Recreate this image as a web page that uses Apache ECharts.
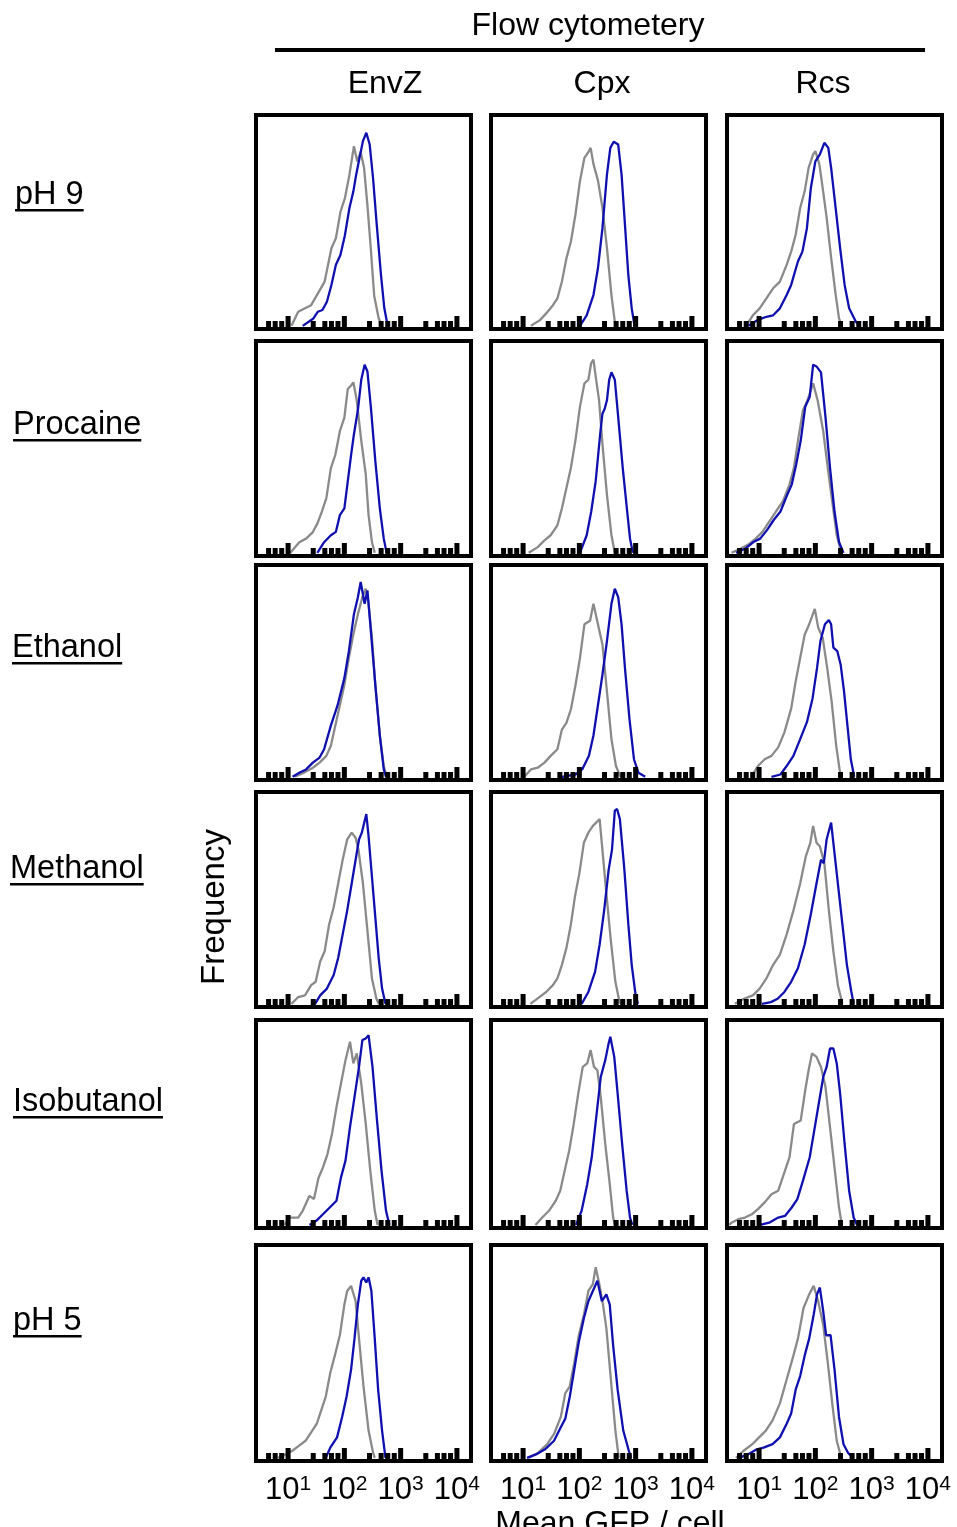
<!DOCTYPE html>
<html>
<head>
<meta charset="utf-8">
<script src="https://cdn.jsdelivr.net/npm/echarts@6/dist/echarts.min.js"></script>
<style>
html,body{margin:0;padding:0;background:#fff}
#main{width:957px;height:1527px}
</style>
</head>
<body>
<div id="main"></div>
<script>
// labels
var title = 'Flow cytometery';
var colNames = ['EnvZ', 'Cpx', 'Rcs'];
var rowNames = ['pH 9', 'Procaine', 'Ethanol', 'Methanol', 'Isobutanol', 'pH 5'];
var yTitle = 'Frequency';
var xTitle = 'Mean GFP / cell';

// x values are log10(fluorescence), y is % of panel height
var ph9EnvzGray = [[1.06,0],[1.18,6.7],[1.3,8.3],[1.41,9.8],[1.53,15.4],[1.65,21],[1.77,36.8],[1.85,41.6],[1.93,54],[2.01,60.6],[2.09,71.7],[2.17,85.2],[2.23,78],[2.29,82.5],[2.35,75],[2.41,57],[2.47,36.5],[2.53,14.3],[2.61,3.5],[2.67,0]];
var ph9EnvzBlue = [[1.26,0],[1.45,3.5],[1.53,6.7],[1.61,7.5],[1.69,11.4],[1.77,19.4],[1.85,29],[1.93,33.6],[2.01,43],[2.09,55.9],[2.16,63.8],[2.21,71.7],[2.27,79.7],[2.33,87.6],[2.39,91.6],[2.45,86],[2.51,70],[2.57,49.7],[2.65,24.3],[2.71,8.3],[2.77,0]];
var ph9CpxGray = [[1.14,0],[1.3,2.7],[1.41,5.9],[1.53,9.8],[1.61,13],[1.69,21],[1.77,32],[1.85,40],[1.93,52.7],[2.01,68.6],[2.09,79.7],[2.15,82],[2.2,84.4],[2.25,76.8],[2.33,69],[2.41,56],[2.49,37],[2.57,14.6],[2.63,1.9],[2.67,0]];
var ph9CpxBlue = [[2.01,0],[2.13,5],[2.25,14.6],[2.33,27.3],[2.41,46.3],[2.49,71.7],[2.55,84.4],[2.61,87.3],[2.69,86],[2.75,71.7],[2.81,48],[2.87,24],[2.93,8.3],[2.98,0]];
var ph9RcsGray = [[0.77,0],[0.89,5],[1.01,8.3],[1.13,13],[1.25,17.8],[1.37,21],[1.49,28.9],[1.57,35.2],[1.65,43.2],[1.73,55.9],[1.81,63.8],[1.88,74.9],[1.96,81.3],[2,82.9],[2.07,76.8],[2.12,67.3],[2.2,51.4],[2.28,32.4],[2.36,14.9],[2.42,3.5],[2.47,0]];
var ph9RcsBlue = [[0.81,0],[0.97,2.7],[1.13,4.3],[1.25,5],[1.37,8.3],[1.49,14.6],[1.57,19.4],[1.69,30.5],[1.77,35.2],[1.85,46.3],[1.92,65.4],[2,78],[2.08,81.3],[2.16,86.8],[2.23,84.4],[2.28,74.9],[2.36,55.9],[2.44,36.8],[2.52,19.4],[2.6,8.3],[2.72,1.9],[2.8,0]];

var procEnvzGray = [[1.04,0],[1.2,5],[1.32,6.7],[1.44,9.8],[1.52,13.8],[1.6,19.4],[1.68,25.8],[1.76,40],[1.84,46.3],[1.92,57.4],[2,63.8],[2.06,77.3],[2.12,79],[2.16,80.5],[2.22,72],[2.3,53],[2.38,37],[2.43,17.8],[2.49,5],[2.54,0]];
var procEnvzBlue = [[1.52,0],[1.64,5],[1.76,8.3],[1.85,9.9],[1.92,17.8],[2,21],[2.06,33.6],[2.12,46.3],[2.17,56],[2.24,67.3],[2.3,81.7],[2.36,88.8],[2.41,85.6],[2.47,69],[2.55,43.4],[2.63,21],[2.7,6.7],[2.75,0]];
var procCpxGray = [[1.1,0],[1.26,2.7],[1.38,5.9],[1.49,8.3],[1.61,13],[1.69,21],[1.77,30.6],[1.85,40.2],[1.93,53],[2.01,68.9],[2.09,80],[2.16,81.7],[2.21,89.6],[2.25,91.2],[2.29,83.3],[2.35,72],[2.41,51.4],[2.49,27.4],[2.57,8.3],[2.63,0]];
var procCpxBlue = [[2.01,0],[2.13,8.3],[2.21,19.4],[2.29,33.8],[2.37,56.1],[2.41,65.7],[2.45,68],[2.49,72],[2.53,81.7],[2.57,85.2],[2.63,81.7],[2.69,64.1],[2.77,40.2],[2.85,19.5],[2.9,6.7],[2.95,0]];
var procRcsGray = [[0.51,0],[0.67,1.9],[0.83,4.3],[0.94,6.7],[1.06,9.9],[1.18,14.7],[1.3,19.5],[1.42,24.2],[1.54,32.2],[1.62,40.2],[1.7,54.5],[1.78,67.3],[1.86,72],[1.96,80],[2.04,72],[2.14,57.4],[2.22,40.2],[2.3,24.2],[2.38,8.3],[2.46,0]];
var procRcsBlue = [[0.59,0],[0.75,1.9],[0.9,5.1],[1.02,6.7],[1.14,10.7],[1.26,15.5],[1.38,19.5],[1.5,27.4],[1.58,32.2],[1.66,41.8],[1.74,53],[1.82,68.9],[1.9,73.7],[1.96,88.8],[2.02,88],[2.1,85.2],[2.18,64.1],[2.26,40.2],[2.34,19.5],[2.42,5.1],[2.5,0]];

var ethEnvzGray = [[1.12,0],[1.28,1.9],[1.44,4.3],[1.56,6.7],[1.68,9.9],[1.76,14.7],[1.84,24.2],[1.92,33.8],[2,43.4],[2.08,56.1],[2.16,67.3],[2.24,76.8],[2.32,84.8],[2.38,88.8],[2.43,81.7],[2.49,65.7],[2.55,43.4],[2.63,19.5],[2.7,5.1],[2.75,0]];
var ethEnvzBlue = [[1.08,0],[1.2,1.9],[1.32,3.5],[1.44,6.7],[1.56,9.1],[1.64,13],[1.76,24.2],[1.88,33.8],[2,46.6],[2.08,59.3],[2.17,76.8],[2.24,84.8],[2.29,92],[2.36,81.7],[2.41,88],[2.47,69],[2.55,43.4],[2.63,19.5],[2.7,3.5],[2.74,0]];
var ethCpxGray = [[1.02,0],[1.14,3.5],[1.26,4.3],[1.38,6.7],[1.49,9.9],[1.61,13],[1.69,22.3],[1.77,25.5],[1.85,31.9],[1.93,43.1],[2.01,56],[2.09,72],[2.19,73.7],[2.25,81.7],[2.33,72],[2.41,62.5],[2.49,40.2],[2.57,17.8],[2.65,5.1],[2.73,0]];
var ethCpxBlue = [[1.69,0],[1.93,1.1],[2.05,3.5],[2.17,9.9],[2.25,19.5],[2.33,33.8],[2.41,48.2],[2.49,64.1],[2.57,81.7],[2.63,88.8],[2.69,84.8],[2.75,72],[2.81,51.4],[2.89,27.4],[2.97,8.3],[3.05,1.9],[3.17,0]];
var ethRcsGray = [[0.86,0],[0.98,5.1],[1.1,8.3],[1.22,9.9],[1.34,13.9],[1.45,21],[1.57,32.2],[1.65,45],[1.73,56.1],[1.81,67.1],[1.89,72],[1.99,79.3],[2.05,70.5],[2.13,65.7],[2.21,51.4],[2.29,35.4],[2.37,14.7],[2.43,3.5],[2.46,0]];
var ethRcsBlue = [[1.22,0],[1.38,1.1],[1.49,5.1],[1.61,9.9],[1.73,17.8],[1.85,25.8],[1.95,37],[2.03,51.4],[2.09,64.1],[2.17,72],[2.24,74],[2.28,72],[2.32,61],[2.39,59.3],[2.45,52.9],[2.51,40.2],[2.57,24.2],[2.63,8.3],[2.69,0]];

var methEnvzGray = [[1.06,0],[1.18,3.2],[1.3,4],[1.41,8.8],[1.49,10.4],[1.57,20],[1.65,24.8],[1.73,37.6],[1.81,45.6],[1.89,56.8],[1.97,68],[2.05,77.6],[2.13,80.8],[2.2,78.4],[2.25,72.8],[2.33,56.8],[2.41,34.4],[2.49,12],[2.57,2.4],[2.61,0]];
var methEnvzBlue = [[1.48,0],[1.57,4],[1.69,7.2],[1.81,13.6],[1.89,21.6],[1.97,32.8],[2.05,44],[2.13,56.8],[2.2,68],[2.26,77.6],[2.31,80.8],[2.39,89.6],[2.43,79.2],[2.49,60],[2.55,40.8],[2.61,21.6],[2.67,7.2],[2.73,0]];
var methCpxGray = [[1.13,0],[1.29,3.2],[1.41,5.6],[1.53,8.8],[1.61,12],[1.69,18.4],[1.77,26.4],[1.85,37.6],[1.92,50.4],[2,61.6],[2.08,76],[2.16,80.8],[2.24,84],[2.36,87.2],[2.42,69.6],[2.48,52],[2.56,29.6],[2.64,10.4],[2.72,0]];
var methCpxBlue = [[2.04,0],[2.16,5.6],[2.28,15.2],[2.36,28],[2.44,44],[2.52,63.2],[2.58,72.8],[2.63,91.2],[2.67,92],[2.72,87.2],[2.8,63.2],[2.87,37.6],[2.93,18.4],[3,4],[3.04,0]];
var methRcsGray = [[0.57,0],[0.73,2.4],[0.89,4],[1.01,7.2],[1.13,12],[1.25,18.4],[1.37,23.2],[1.49,32.8],[1.61,44],[1.73,56.8],[1.83,69.6],[1.91,76],[1.96,84],[2.02,76],[2.08,74.4],[2.16,66.4],[2.24,44],[2.32,24.8],[2.4,8.8],[2.48,0]];
var methRcsBlue = [[1.05,0],[1.21,0.8],[1.33,2.4],[1.45,5.6],[1.57,10.4],[1.69,16.8],[1.81,28],[1.92,42.4],[2.02,56.8],[2.1,68],[2.15,66.4],[2.2,77.6],[2.28,85.6],[2.34,71.2],[2.4,56.8],[2.48,37.6],[2.56,18.4],[2.64,5.6],[2.68,0]];

var isoEnvzGray = [[0.94,0],[1.02,3.6],[1.18,3.6],[1.26,6.9],[1.38,14.2],[1.46,12.6],[1.54,22.9],[1.62,28.1],[1.7,34.6],[1.78,44.4],[1.86,57.5],[1.94,69],[2.02,80.4],[2.1,89.4],[2.16,78.8],[2.22,83.7],[2.3,69],[2.38,49.3],[2.46,26.5],[2.54,6.9],[2.59,0]];
var isoEnvzBlue = [[1.38,0],[1.5,2],[1.62,5.2],[1.74,8.5],[1.86,11.8],[1.94,23.2],[2.02,31.4],[2.1,47.7],[2.18,62.4],[2.26,77.1],[2.32,90.2],[2.38,91],[2.43,92.6],[2.5,77.1],[2.58,51],[2.66,26.5],[2.74,6.9],[2.8,0]];
var isoCpxGray = [[1.22,0],[1.34,3.6],[1.46,6.9],[1.58,11.8],[1.66,16.7],[1.74,26.5],[1.82,36.3],[1.9,49.3],[1.98,64.1],[2.06,77.1],[2.14,78.8],[2.2,85.3],[2.26,77.1],[2.32,75.5],[2.38,62.4],[2.46,39.5],[2.54,19.9],[2.6,3.6],[2.63,0]];
var isoCpxBlue = [[1.94,0],[2.04,6.9],[2.14,19.9],[2.22,33],[2.3,52.6],[2.38,72.2],[2.46,80.4],[2.52,88.6],[2.55,91.8],[2.62,82],[2.68,64.1],[2.76,39.5],[2.84,16.7],[2.9,3.6],[2.94,0]];
var isoRcsGray = [[0.47,0],[0.51,1.1],[0.63,2.8],[0.75,3.6],[0.87,5.2],[0.98,7.7],[1.1,11],[1.22,15],[1.34,16.7],[1.42,23.2],[1.54,33],[1.62,49.3],[1.74,51],[1.82,65.7],[1.88,75.5],[1.94,83.7],[2.02,82],[2.1,77.1],[2.18,67.3],[2.26,47.7],[2.34,28.1],[2.42,8.5],[2.47,0]];
var isoRcsBlue = [[1.02,0],[1.18,1.1],[1.34,3.6],[1.46,4.4],[1.58,8.5],[1.68,12.6],[1.78,21.6],[1.9,33],[2,49.3],[2.08,62.4],[2.14,72.2],[2.2,77.1],[2.26,86.1],[2.32,86.1],[2.38,78.8],[2.44,64.1],[2.52,39.5],[2.6,16.7],[2.68,3.6],[2.74,0]];

var ph5EnvzGray = [[0.82,0],[0.9,0.8],[1.07,3.2],[1.19,5.6],[1.31,8],[1.43,12.8],[1.51,16],[1.59,22.4],[1.67,28.8],[1.75,40],[1.83,48],[1.92,57.6],[2,72],[2.05,78.4],[2.12,80.8],[2.2,73.6],[2.26,56],[2.34,33.6],[2.43,12.8],[2.51,2.4],[2.54,0]];
var ph5EnvzBlue = [[1.67,0],[1.75,4.8],[1.87,9.6],[1.96,19.2],[2.04,28.8],[2.12,41.6],[2.18,56],[2.24,72],[2.3,83.2],[2.34,84.8],[2.39,82.4],[2.43,84.8],[2.48,78.4],[2.54,56],[2.6,32],[2.67,12.8],[2.73,0]];
var ph5CpxGray = [[1.1,0],[1.27,2.4],[1.43,6.4],[1.55,11.2],[1.67,19.2],[1.75,30.4],[1.83,33.6],[1.91,44.8],[1.99,57.6],[2.08,67.2],[2.16,78.4],[2.24,81.6],[2.29,89.6],[2.36,80.8],[2.42,72],[2.48,60.8],[2.56,36.8],[2.64,12.8],[2.7,0]];
var ph5CpxBlue = [[1.07,0],[1.23,1.6],[1.39,4],[1.55,8],[1.67,14.4],[1.75,18.4],[1.83,28.8],[1.91,41.6],[1.99,54.4],[2.08,65.6],[2.16,73.6],[2.24,78.4],[2.32,83.2],[2.4,73.6],[2.48,76.8],[2.54,72],[2.6,52.8],[2.68,32],[2.78,12.8],[2.88,3.2],[2.92,0]];
var ph5RcsGray = [[0.59,0],[0.72,3.2],[0.88,6.4],[1,9.6],[1.12,12.8],[1.24,17.6],[1.37,25.6],[1.49,36.8],[1.61,48],[1.69,56],[1.79,70.4],[1.89,76.8],[1.97,80.8],[2.05,73.6],[2.14,62.4],[2.22,44.8],[2.3,25.6],[2.38,8],[2.46,0]];
var ph5RcsBlue = [[0.64,0],[0.8,1.6],[0.96,4],[1.08,4.8],[1.24,6.4],[1.37,9.6],[1.49,16],[1.57,20.8],[1.65,32],[1.73,38.4],[1.81,48],[1.89,56],[1.97,67.2],[2.03,76.8],[2.08,80],[2.14,68.8],[2.19,57.6],[2.27,57.6],[2.34,41.6],[2.42,19.2],[2.5,6.4],[2.58,2.4],[2.66,0]];

// axis ticks (log10 units): decades and the minor marks seen in each decade
var majorTicks = [1, 2, 3, 4];
var minorFactors = [2.8, 4.5, 5.9, 7.7];
var decades = [0, 1, 2, 3];
var tickLabels = ['1', '2', '3', '4'];

var grayCurves = [
  [ph9EnvzGray, ph9CpxGray, ph9RcsGray],
  [procEnvzGray, procCpxGray, procRcsGray],
  [ethEnvzGray, ethCpxGray, ethRcsGray],
  [methEnvzGray, methCpxGray, methRcsGray],
  [isoEnvzGray, isoCpxGray, isoRcsGray],
  [ph5EnvzGray, ph5CpxGray, ph5RcsGray]
];
var blueCurves = [
  [ph9EnvzBlue, ph9CpxBlue, ph9RcsBlue],
  [procEnvzBlue, procCpxBlue, procRcsBlue],
  [ethEnvzBlue, ethCpxBlue, ethRcsBlue],
  [methEnvzBlue, methCpxBlue, methRcsBlue],
  [isoEnvzBlue, isoCpxBlue, isoRcsBlue],
  [ph5EnvzBlue, ph5CpxBlue, ph5RcsBlue]
];

// layout
var FONT = '"Liberation Sans", Arial, sans-serif';
var X_MIN = 0.43, X_MAX = 4.25, Y_MIN = -1.5, Y_MAX = 100;
var colLeft = [256, 491, 727], colW = 215;
var rowTop = [115, 341, 565, 792, 1020, 1245];
var rowH = [214, 215, 215, 215, 208, 216];
var rowLabelY = [195, 425, 648, 869, 1102, 1321];
var rowLabelX = [15, 13, 12, 10, 13, 13];
var colCenter = [385, 602, 823];

var tickData = [];
majorTicks.forEach(function (t) { tickData.push([t, 11]); });
decades.forEach(function (d) {
  minorFactors.forEach(function (f) {
    var v = d + Math.log10(f);
    if (v > X_MIN + 0.05 && v < X_MAX - 0.05) tickData.push([v, 6]);
  });
});

function renderTick(params, api) {
  var base = api.coord([api.value(0), Y_MIN]);
  var h = api.value(1);
  return {
    type: 'rect',
    shape: { x: base[0] - 2.5, y: base[1] - 2 - h, width: 5, height: h + 2 },
    style: { fill: '#000' }
  };
}

var grids = [], xAxes = [], yAxes = [], series = [];
for (var r = 0; r < 6; r++) {
  for (var c = 0; c < 3; c++) {
    var i = grids.length;
    grids.push({
      left: colLeft[c], top: rowTop[r], width: colW, height: rowH[r],
      show: true, borderColor: '#000', borderWidth: 4, backgroundColor: '#fff'
    });
    var isBottom = r === 5;
    xAxes.push({
      type: 'value', gridIndex: i, min: X_MIN, max: X_MAX,
      axisLine: { show: false }, axisTick: { show: false }, splitLine: { show: false },
      axisLabel: {
        show: isBottom,
        customValues: majorTicks,
        margin: 13,
        formatter: function (v) { return '{b|10}{s|' + tickLabels[Math.round(v) - 1] + '}'; },
        rich: {
          b: { fontSize: 31, fontFamily: FONT, color: '#000', verticalAlign: 'bottom', lineHeight: 32 },
          s: { fontSize: 21, fontFamily: FONT, color: '#000', verticalAlign: 'top', lineHeight: 21 }
        }
      }
    });
    yAxes.push({
      type: 'value', gridIndex: i, min: Y_MIN, max: Y_MAX, show: false
    });
    series.push({
      type: 'line', xAxisIndex: i, yAxisIndex: i, data: grayCurves[r][c],
      symbol: 'none', lineStyle: { color: '#8a8a8a', width: 2.3 }, z: 2
    });
    series.push({
      type: 'line', xAxisIndex: i, yAxisIndex: i, data: blueCurves[r][c],
      symbol: 'none', lineStyle: { color: '#1010b0', width: 2.3 }, z: 3
    });
    series.push({
      type: 'custom', xAxisIndex: i, yAxisIndex: i, data: tickData,
      renderItem: renderTick, z: 4, silent: true
    });
  }
}

function textWidth(str, size) {
  var ctx = document.createElement('canvas').getContext('2d');
  ctx.font = size + 'px ' + FONT;
  return ctx.measureText(str).width;
}

var graphics = [];
graphics.push({
  type: 'text', x: 588, y: 26,
  style: { text: title, fontSize: 32, fontFamily: FONT, fill: '#000', align: 'center', verticalAlign: 'middle' }
});
graphics.push({
  type: 'line', shape: { x1: 275, y1: 50, x2: 925, y2: 50 },
  style: { stroke: '#000', lineWidth: 4 }
});
colNames.forEach(function (n, k) {
  graphics.push({
    type: 'text', x: colCenter[k], y: 84,
    style: { text: n, fontSize: 32, fontFamily: FONT, fill: '#000', align: 'center', verticalAlign: 'middle' }
  });
});
rowNames.forEach(function (n, k) {
  graphics.push({
    type: 'text', x: rowLabelX[k], y: rowLabelY[k],
    style: { text: n, fontSize: 32.5, fontFamily: FONT, fill: '#000', align: 'left', verticalAlign: 'middle' }
  });
  graphics.push({
    type: 'rect', shape: { x: rowLabelX[k], y: rowLabelY[k] + 14, width: textWidth(n, 32.5), height: 2.5 },
    style: { fill: '#000' }
  });
});
graphics.push({
  type: 'text', x: 215, y: 907, rotation: Math.PI / 2,
  style: { text: yTitle, fontSize: 33, fontFamily: FONT, fill: '#000', align: 'center', verticalAlign: 'middle' }
});
graphics.push({
  type: 'text', x: 610, y: 1508,
  style: { text: xTitle, fontSize: 32, fontFamily: FONT, fill: '#000', align: 'center', verticalAlign: 'top' }
});

var chart = echarts.init(document.getElementById('main'));
chart.setOption({
  animation: false,
  backgroundColor: '#fff',
  grid: grids,
  xAxis: xAxes,
  yAxis: yAxes,
  series: series,
  graphic: graphics
});
</script>
</body>
</html>
